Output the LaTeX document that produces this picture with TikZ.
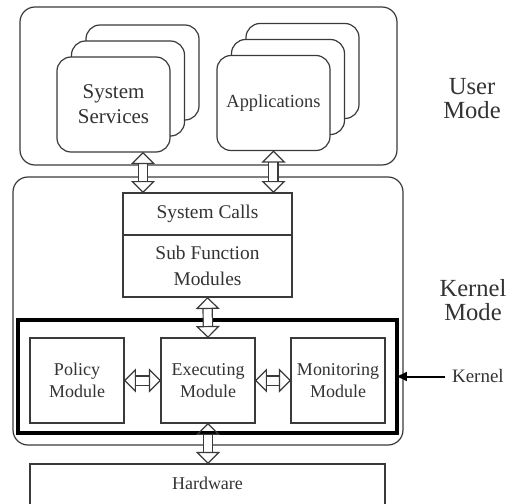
\documentclass[tikz,border=0pt]{standalone}
\usepackage{fontspec}
\setmainfont{Liberation Serif}
\usepackage{xcolor}
\definecolor{lineGray}{HTML}{3A3A3A}
\definecolor{darkText}{HTML}{333333}
\usepackage{tikz}
\usetikzlibrary{
    arrows.meta,
    shadows,
    positioning,
    calc
}
\tikzset{
    % Base style for all nodes
    plain base/.style={
        align=center,
        text=darkText,
        draw=lineGray,
        line width=0.6pt,
        outer sep=0pt,
        inner sep=1pt,
    },
    % Large rounded regions for user and kernel mode
    region/.style={
        plain base,
        rectangle,
        rounded corners=7.5pt,
    },
    % Stacked user-space processes
    stack/.style={
        plain base,
        rectangle,
        rounded corners=7pt,
        fill=white,
        minimum width=56.5pt,
        minimum height=47.5pt,
        double copy shadow={
            shadow xshift=7.25pt,
            shadow yshift=8pt,
            fill=white,
            draw=lineGray,
            line width=0.6pt
        },
    },
    % Plain rectangular boxes
    box/.style={
        plain base,
        rectangle,
        fill=white,
        minimum width=47pt,
        minimum height=42.5pt,
        font=\fontsize{9}{11}\selectfont,
    },
    % Hollow double arrow
    bus/.style={
        draw=lineGray,
        line width=0.6pt,
        double=white,
        double distance=4pt,
        {Triangle[open, length=6pt, width=12pt]}-{Triangle[open, length=6pt, width=12pt]},
    },
    % Pointer arrow to the kernel box
    pointer/.style={
        -{Triangle[length=5pt, width=4.5pt]},
        line width=1pt,
        draw=black,
    },
    % Mode labels on the right
    mode label/.style={
        align=center,
        text=darkText,
        font=\fontsize{12.3}{12}\selectfont,
    },
}

\begin{document}
\begin{tikzpicture}[x=0.5pt, y=-0.5pt]
    \useasboundingbox (0,0) rectangle (511,504);
    \clip (0,0) rectangle (511,504);

    % user mode
    \node (usermode) [region, minimum width=188.5pt, minimum height=79pt] at (208.5,86) {};
    \node (sysserv) [stack, font=\fontsize{10.5}{12.5}\selectfont] at (113.5,104.5) {System\\Services};
    \node (apps) [stack, font=\fontsize{9.2}{11}\selectfont] at (273.5,103) {Applications};
    \node (usertag) [mode label] at (472,99) {User\\Mode};

    % kernel mode
    \node (kernelmode) [region, minimum width=195pt, minimum height=134pt] at (208,311) {};
    \node (syscalls) [box, minimum width=84.5pt, minimum height=21pt,
        font=\fontsize{9.7}{12}\selectfont] at (207.5,214) {System Calls};
    \node (subfunc) [box, anchor=north, minimum width=84.5pt, minimum height=31pt,
        font=\fontsize{9.7}{13}\selectfont] at (syscalls.south) {Sub Function\\Modules};
    \node (kernelbox) [plain base, draw=black, line width=1.6pt, minimum width=189.5pt,
        minimum height=56.5pt] at (207.5,376.5) {};
    \node (policy) [box] at (77,380.5) {Policy\\Module};
    \node (exec) [box, right=18.5pt of policy] {Executing\\Module};
    \node (monitor) [box, right=18pt of exec] {Monitoring\\Module};
    \node (kerneltag) [mode label] at (473,300) {Kernel\\Mode};
    \node (kernelref) [text=darkText, font=\fontsize{9.5}{11}\selectfont,
        right=24pt of kernelbox] {Kernel};

    % hardware
    \node (hardware) [box, anchor=north, minimum width=177.5pt, minimum height=30pt,
        label={[anchor=north, yshift=-3pt, text=darkText,
        font=\fontsize{9}{11}\selectfont]north:Hardware}] at (207.5,464) {};

    % connectors
    \draw [bus] ([xshift=14.75pt]sysserv.south) -- ([xshift=14.75pt]sysserv.south |- syscalls.north);
    \draw [bus] (apps.south) -- (apps.south |- syscalls.north);
    \draw [bus] (subfunc.south) -- (exec.north);
    \draw [bus] (policy.east) -- (exec.west);
    \draw [bus] (exec.east) -- (monitor.west);
    \draw [bus] (exec.south) -- (exec.south |- hardware.north);
    \draw [pointer] (kernelref) -- (kernelbox);
\end{tikzpicture}
\end{document}
